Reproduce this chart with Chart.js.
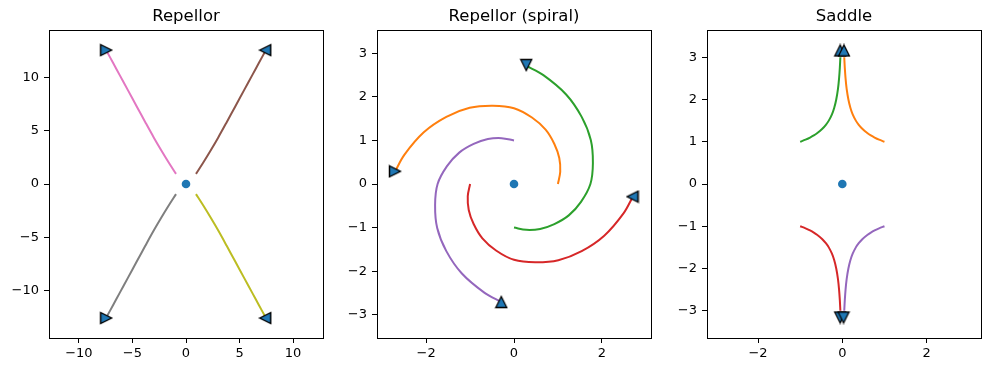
<!DOCTYPE html>
<html>
<head>
<meta charset="utf-8">
<script src="https://cdn.jsdelivr.net/npm/chart.js@4.4.1/dist/chart.umd.min.js"></script>
<style>
html,body{margin:0;padding:0;background:#fff;}
#wrap{position:relative;width:989px;height:372px;overflow:hidden;}
.panel{position:absolute;top:0;width:331px;height:372px;}
</style>
</head>
<body>
<div id="wrap">
  <div class="panel" style="left:-1px"><canvas id="c1" width="331" height="372"></canvas></div>
  <div class="panel" style="left:327px"><canvas id="c2" width="331" height="372"></canvas></div>
  <div class="panel" style="left:657px"><canvas id="c3" width="331" height="372"></canvas></div>
</div>
<script>
// ---- data ----
const titles = ['Repellor', 'Repellor (spiral)', 'Saddle'];
const origin = [[0, 0]];

// Repellor: four branches
const repNE = [[0.93,0.95],[1.6,2.0],[2.3,3.15],[3.0,4.35],[3.8,5.8],[4.6,7.28],[5.4,8.76],[6.2,10.24],[6.8,11.35],[7.35,12.37]];
const repNW = [[-0.93,0.95],[-1.6,2.0],[-2.3,3.15],[-3.0,4.35],[-3.8,5.8],[-4.6,7.28],[-5.4,8.76],[-6.2,10.24],[-6.8,11.35],[-7.35,12.37]];
const repSW = [[-0.93,-0.95],[-1.6,-2.0],[-2.3,-3.15],[-3.0,-4.35],[-3.8,-5.8],[-4.6,-7.28],[-5.4,-8.76],[-6.2,-10.24],[-6.8,-11.35],[-7.35,-12.37]];
const repSE = [[0.93,-0.95],[1.6,-2.0],[2.3,-3.15],[3.0,-4.35],[3.8,-5.8],[4.6,-7.28],[5.4,-8.76],[6.2,-10.24],[6.8,-11.35],[7.35,-12.37]];
const repHeads = [[-7.45,12.56],[7.4,12.56],[-7.45,-12.58],[7.4,-12.58]];
const repTicks = [-10, -5, 0, 5, 10];

// Repellor (spiral): four arms
const spOrange = [[1,0],[1.053,0.282],[1.031,0.595],[0.919,0.919],[0.72,1.247],[0.409,1.526],[0,1.74],[-0.481,1.797],[-1.01,1.749],[-1.541,1.541],[-2.055,1.187],[-2.498,0.669],[-2.71,0.285]];
const spGreen = [[0,-1],[0.282,-1.053],[0.595,-1.031],[0.919,-0.919],[1.247,-0.72],[1.526,-0.409],[1.74,0],[1.797,0.481],[1.749,1.01],[1.541,1.541],[1.187,2.055],[0.669,2.498],[0.285,2.71]];
const spRed = [[-1,0],[-1.053,-0.282],[-1.031,-0.595],[-0.919,-0.919],[-0.72,-1.247],[-0.409,-1.526],[0,-1.74],[0.481,-1.797],[1.01,-1.749],[1.541,-1.541],[2.055,-1.187],[2.498,-0.669],[2.71,-0.285]];
const spPurple = [[0,1],[-0.282,1.053],[-0.595,1.031],[-0.919,0.919],[-1.247,0.72],[-1.526,0.409],[-1.74,0],[-1.797,-0.481],[-1.749,-1.01],[-1.541,-1.541],[-1.187,-2.055],[-0.669,-2.498],[-0.285,-2.71]];
const spHeads = [[0.28,2.73],[-2.71,0.29],[-0.29,-2.71],[2.7,-0.29]];
const spTicksX = [-2, 0, 2];
const spTicksY = [-3, -2, -1, 0, 1, 2, 3];

// Saddle: four branches
const sdOrange = [[1.0,1.0],[0.872,1.05],[0.766,1.1],[0.676,1.15],[0.6,1.2],[0.48,1.3],[0.39,1.4],[0.321,1.5],[0.246,1.65],[0.193,1.8],[0.144,2.0],[0.103,2.25],[0.077,2.5],[0.059,2.75],[0.046,3.0]];
const sdGreen = [[-1.0,1.0],[-0.872,1.05],[-0.766,1.1],[-0.676,1.15],[-0.6,1.2],[-0.48,1.3],[-0.39,1.4],[-0.321,1.5],[-0.246,1.65],[-0.193,1.8],[-0.144,2.0],[-0.103,2.25],[-0.077,2.5],[-0.059,2.75],[-0.046,3.0]];
const sdRed = [[-1.0,-1.0],[-0.872,-1.05],[-0.766,-1.1],[-0.676,-1.15],[-0.6,-1.2],[-0.48,-1.3],[-0.39,-1.4],[-0.321,-1.5],[-0.246,-1.65],[-0.193,-1.8],[-0.144,-2.0],[-0.103,-2.25],[-0.077,-2.5],[-0.059,-2.75],[-0.046,-3.0]];
const sdPurple = [[1.0,-1.0],[0.872,-1.05],[0.766,-1.1],[0.676,-1.15],[0.6,-1.2],[0.48,-1.3],[0.39,-1.4],[0.321,-1.5],[0.246,-1.65],[0.193,-1.8],[0.144,-2.0],[0.103,-2.25],[0.077,-2.5],[0.059,-2.75],[0.046,-3.0]];
const sdHeads = [[-0.05,3.16],[0.04,3.16],[-0.05,-3.16],[0.03,-3.16]];
const sdTicksX = [-2, 0, 2];
const sdTicksY = [-3, -2, -1, 0, 1, 2, 3];

// ---- drawing ----
const FONT = 'DejaVu Sans';
const toXY = a => a.map(([x, y]) => ({x, y}));
const fmt = v => v < 0 ? '\u2212' + Math.abs(v) : String(v);

// matplotlib-like triangle marker (points up, rotated per point)
const tri = document.createElement('canvas');
tri.width = 14; tri.height = 14;
(function(){
  const g = tri.getContext('2d');
  g.beginPath();
  g.moveTo(7, 1.5); g.lineTo(12.5, 12.5); g.lineTo(1.5, 12.5); g.closePath();
  g.fillStyle = '#1f77b4'; g.fill();
  g.lineWidth = 1.3; g.strokeStyle = '#000'; g.stroke();
})();

// axes box on all four sides
const frame = {
  id: 'frame',
  afterDraw(chart){
    const {ctx, chartArea: a} = chart;
    ctx.save();
    ctx.strokeStyle = '#000'; ctx.lineWidth = 1;
    ctx.strokeRect(Math.round(a.left) + 0.5, Math.round(a.top) + 0.5, Math.round(a.right - a.left), Math.round(a.bottom - a.top));
    ctx.restore();
  }
};

function axis(min, max, ticks, isX){
  return {
    type: 'linear', min, max,
    afterBuildTicks: s => { s.ticks = ticks.map(v => ({value: v})); },
    afterFit: s => { if (isX) s.height = 34; else s.width = 50; },
    border: {display: false},
    grid: {drawOnChartArea: false, drawTicks: true, tickLength: 5, tickColor: '#000', tickWidth: 1},
    ticks: {color: '#000', font: {family: FONT, size: 13}, padding: isX ? 3 : 5, callback: fmt, maxRotation: 0, autoSkip: false}
  };
}

function panel(id, title, curves, heads, headRot, xr, yr, xt, yt){
  const datasets = [{
    data: toXY(heads), showLine: false, pointStyle: tri, pointRotation: headRot,
    pointRadius: 6, pointHoverRadius: 6, backgroundColor: '#1f77b4', borderColor: '#000'
  }];
  curves.forEach(c => datasets.push({
    data: toXY(c.pts), showLine: true, borderColor: c.color, borderWidth: 2,
    pointRadius: 0, pointHoverRadius: 0, tension: 0.33, fill: false
  }));
  datasets.push({
    data: toXY(origin), showLine: false, pointStyle: 'circle', pointRadius: 4.3,
    backgroundColor: '#1f77b4', borderWidth: 0
  });
  new Chart(document.getElementById(id), {
    type: 'scatter',
    data: {datasets},
    options: {
      responsive: false, animation: false, devicePixelRatio: 1, events: [],
      layout: {padding: {left: 0, right: 4, top: 0, bottom: 0}},
      plugins: {
        legend: {display: false}, tooltip: {enabled: false},
        title: {display: true, text: title, fullSize: false, color: '#000',
          font: {family: FONT, size: 16.5, weight: 'normal', lineHeight: 1},
          padding: {top: 8.5, bottom: 5}}
      },
      scales: {x: axis(xr[0], xr[1], xt, true), y: axis(yr[0], yr[1], yt, false)}
    },
    plugins: [frame]
  });
}

panel('c1', titles[0], [
  {pts: repNE, color: '#8c564b'}, {pts: repNW, color: '#e377c2'},
  {pts: repSW, color: '#7f7f7f'}, {pts: repSE, color: '#bcbd22'}
], repHeads, [90, 270, 90, 270], [-12.79, 12.79], [-14.45, 14.45], repTicks, repTicks);

panel('c2', titles[1], [
  {pts: spOrange, color: '#ff7f0e'}, {pts: spGreen, color: '#2ca02c'},
  {pts: spRed, color: '#d62728'}, {pts: spPurple, color: '#9467bd'}
], spHeads, [180, 90, 0, 270], [-3.12, 3.12], [-3.535, 3.535], spTicksX, spTicksY);

panel('c3', titles[2], [
  {pts: sdOrange, color: '#ff7f0e'}, {pts: sdGreen, color: '#2ca02c'},
  {pts: sdRed, color: '#d62728'}, {pts: sdPurple, color: '#9467bd'}
], sdHeads, [0, 0, 180, 180], [-3.21, 3.29], [-3.645, 3.645], sdTicksX, sdTicksY);
</script>
</body>
</html>
